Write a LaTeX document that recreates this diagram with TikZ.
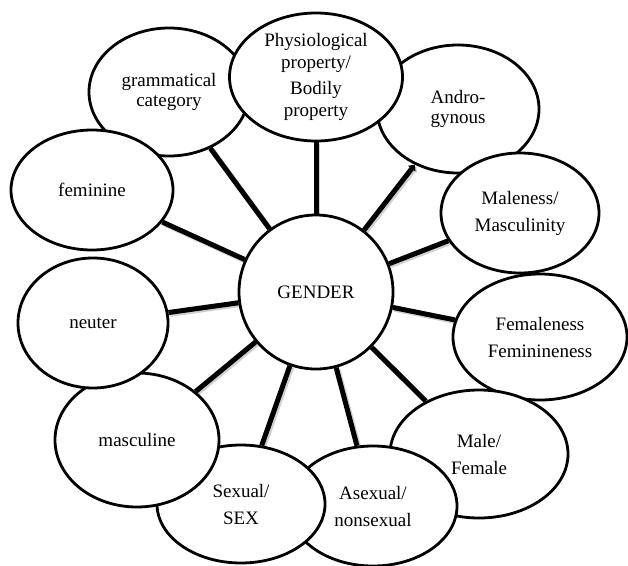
\documentclass[tikz,border=0pt]{standalone}
\usepackage{fontspec}
\setmainfont{Liberation Serif}
\usetikzlibrary{shapes.geometric,backgrounds,arrows.meta}

\begin{document}
\begin{tikzpicture}[x=1pt,y=-1pt,
  bubble/.style={ellipse, draw=black, line width=2.8pt, fill=white,
    inner sep=0pt, align=center, font=\fontsize{19}{27}\selectfont},
  tight/.style={font=\fontsize{19}{20.5}\selectfont},
  hub/.style={circle, draw=black, line width=2.8pt, fill=white,
    minimum size=154pt, inner sep=0pt, font=\fontsize{19}{23}\selectfont},
  spoke/.style={line width=5pt, draw=black,
    preaction={draw=black!40, opacity=0.45, line width=5.4pt,
      transform canvas={shift={(1.6pt,-1.6pt)}}}},
]
\useasboundingbox (0,0) rectangle (628,565);

% outer bubbles, back to front
\node[bubble, tight, minimum width=160pt, minimum height=128pt] (gram) at (169,92) {grammatical\\category};
\node[bubble, tight, minimum width=162pt, minimum height=128pt] (andro) at (458,109) {Andro-\\gynous};
\node[bubble, font=\fontsize{19}{22}\selectfont, minimum width=173pt, minimum height=128pt] (phys) at (316,77)
  {Physiological\\property/\\[4pt]Bodily\\property};
\node[bubble, minimum width=158pt, minimum height=120pt] (male) at (520,213) {Maleness/\\Masculinity};
\node[bubble, minimum width=174pt, minimum height=126pt] (fem) at (540,337) {Femaleness\\Feminineness};
\node[bubble, minimum width=178pt, minimum height=128pt] (mf) at (479,454) {Male/\\Female};
\node[bubble, minimum width=168pt, minimum height=120pt] (asex) at (373,506) {Asexual/\\nonsexual};
\node[bubble, minimum width=168pt, minimum height=118pt] (sex) at (241,504) {Sexual/\\SEX};
\node[bubble, minimum width=164pt, minimum height=134pt] (masc) at (137,440) {masculine};
\node[bubble, minimum width=150pt, minimum height=130pt] (neut) at (93,323) {neuter};
\node[bubble, minimum width=162pt, minimum height=120pt] (femn) at (92,190) {feminine};

% centre
\node[hub] (g) at (316,292) {GENDER};

% spokes from the centre to every bubble
\begin{scope}[on background layer]
  \draw[spoke] (g) -- (gram);
  \draw[spoke] (g) -- (phys);
  \draw[spoke, -{Triangle[length=5pt,width=9pt]}] (g) -- (andro);
  \draw[spoke] (g) -- (male);
  \draw[spoke] (g) -- (fem);
  \draw[spoke] (g) -- (mf);
  \draw[spoke] (g) -- (asex);
  \draw[spoke] (g) -- (sex);
  \draw[spoke] (g) -- (masc);
  \draw[spoke] (g) -- (neut);
  \draw[spoke] (g) -- (femn);
\end{scope}
\end{tikzpicture}
\end{document}
